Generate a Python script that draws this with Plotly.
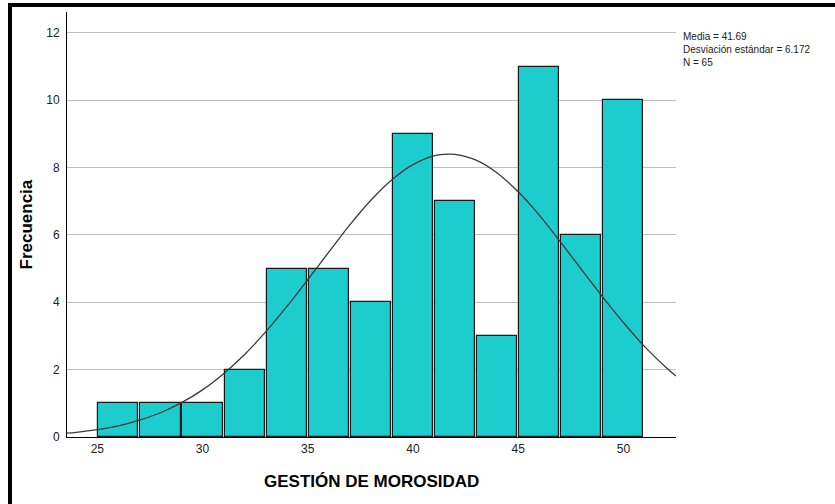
import plotly.graph_objects as go

# ---- data ----
bin_left = [25, 27, 29, 31, 33, 35, 37, 39, 41, 43, 45, 47, 49]
counts = [1, 1, 1, 2, 5, 5, 4, 9, 7, 3, 11, 6, 10]
bin_width = 2

curve_x = [23.5, 24, 25, 26, 27, 28, 29, 30, 31, 32, 33, 34, 35, 36, 37, 38,
           39, 40, 41, 41.69, 42, 43, 44, 45, 46, 47, 48, 49, 50, 51, 52, 52.5]
curve_y = [0.11, 0.14, 0.22, 0.33, 0.50, 0.72, 1.02, 1.40, 1.88, 2.45, 3.12,
           3.87, 4.67, 5.49, 6.30, 7.03, 7.64, 8.09, 8.35, 8.40, 8.39, 8.22,
           7.84, 7.28, 6.59, 5.80, 4.98, 4.17, 3.40, 2.69, 2.08, 1.81]

x_ticks = [25, 30, 35, 40, 45, 50]
y_ticks = [0, 2, 4, 6, 8, 10, 12]

stats_lines = ["Media = 41.69", "Desviación estándar = 6.172", "N = 65"]
x_title = "GESTIÓN DE MOROSIDAD"
y_title = "Frecuencia"

# ---- layout geometry (pixels) ----
W, H = 835, 504
L, R, T, B = 67, 676, 12, 437
pw, ph = R - L, B - T


def px(x):
    return (x - L) / pw


def py(y):
    return (B - y) / ph


FONT = "Liberation Sans, Arial, sans-serif"

fig = go.Figure()
fig.add_trace(go.Bar(
    x=[b + bin_width / 2 for b in bin_left],
    y=counts,
    width=[bin_width * 0.955] * len(bin_left),
    marker=dict(color="#1DCDCD", line=dict(color="#1a1a1a", width=1.2)),
    hoverinfo="x+y",
    showlegend=False,
))
fig.add_trace(go.Scatter(
    x=curve_x, y=curve_y, mode="lines",
    line=dict(color="#3a3a3a", width=1.3, shape="spline"),
    showlegend=False, hoverinfo="skip",
))

fig.update_layout(
    width=W, height=H,
    margin=dict(l=L, r=W - R, t=T, b=H - B, autoexpand=False),
    paper_bgcolor="white", plot_bgcolor="white",
    font=dict(family=FONT, color="#222"),
    bargap=0,
    xaxis=dict(
        range=[23.56, 52.5], tickvals=x_ticks, showgrid=False, zeroline=False,
        showline=True, linecolor="black", linewidth=1, ticks="",
        tickfont=dict(size=12, color="#222", family=FONT),
        ticklabelstandoff=1,
    ),
    yaxis=dict(
        range=[0, 12.62], tickvals=y_ticks, showgrid=True, gridcolor="#BEBEBE",
        gridwidth=1, zeroline=False, showline=True, linecolor="black",
        linewidth=1, ticks="", tickfont=dict(size=12, color="#222", family=FONT),
        ticklabelstandoff=4,
    ),
)

# axis titles
fig.add_annotation(x=0.5, y=py(481), xref="paper", yref="paper",
                   text="<b>" + x_title + "</b>", showarrow=False,
                   font=dict(size=17, color="black", family=FONT),
                   xanchor="center", yanchor="middle")
fig.add_annotation(x=px(26), y=0.5, xref="paper", yref="paper",
                   text="<b>" + y_title + "</b>", showarrow=False, textangle=-90,
                   font=dict(size=17, color="black", family=FONT),
                   xanchor="center", yanchor="middle")

# statistics text
fig.add_annotation(x=px(681), y=py(50), xref="paper", yref="paper",
                   text="<br>".join(stats_lines), showarrow=False, align="left",
                   font=dict(size=10, color="#222", family=FONT),
                   xanchor="left", yanchor="middle")

# outer black frame (top and left edges visible)
fig.add_shape(type="line", xref="paper", yref="paper",
              x0=px(8), x1=px(835), y0=py(5), y1=py(5),
              line=dict(color="black", width=4))
fig.add_shape(type="line", xref="paper", yref="paper",
              x0=px(10), x1=px(10), y0=py(3), y1=py(504),
              line=dict(color="black", width=4))

fig.write_html("out.html", config={"displayModeBar": False},
               post_script="document.body.style.margin='0px';")
